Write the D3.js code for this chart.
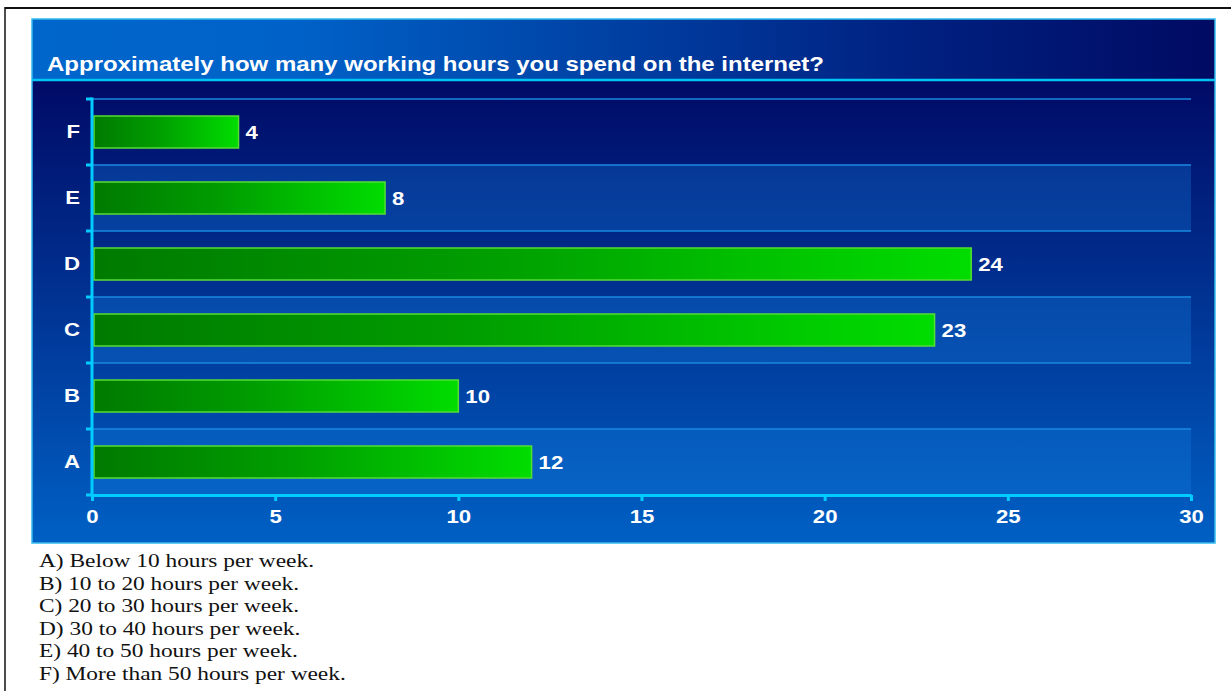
<!DOCTYPE html>
<html>
<head>
<meta charset="utf-8">
<script src="https://cdn.jsdelivr.net/npm/d3@7"></script>
<style>
  html, body { margin: 0; padding: 0; background: #ffffff; }
  svg { display: block; }
</style>
</head>
<body>
<svg id="chart" width="1231" height="691"></svg>
<script>
// Survey answers: number of respondents per hour range
const categories = ["A", "B", "C", "D", "E", "F"];
const counts = [12, 10, 23, 24, 8, 4];
const xTicks = [0, 5, 10, 15, 20, 25, 30];
const titleText = "Approximately how many working hours you spend on the internet?";
const legendLines = [
  "A) Below 10 hours per week.",
  "B) 10 to 20 hours per week.",
  "C) 20 to 30 hours per week.",
  "D) 30 to 40 hours per week.",
  "E) 40 to 50 hours per week.",
  "F) More than 50 hours per week."
];

// All text on this page is drawn slightly widened
const STRETCH = 1.2;
const SANS = "Liberation Sans, Arial, sans-serif";
const SERIF = "Liberation Serif, Times New Roman, serif";

const svg = d3.select("#chart");
const defs = svg.append("defs");

// Gradients
const titleGrad = defs.append("linearGradient").attr("id", "titleGrad")
  .attr("x1", "0%").attr("x2", "100%").attr("y1", "0%").attr("y2", "0%");
titleGrad.append("stop").attr("offset", "0%").attr("stop-color", "#0066cc");
titleGrad.append("stop").attr("offset", "22%").attr("stop-color", "#0062c8");
titleGrad.append("stop").attr("offset", "75%").attr("stop-color", "#002080");
titleGrad.append("stop").attr("offset", "100%").attr("stop-color", "#000a62");

const plotGrad = defs.append("linearGradient").attr("id", "plotGrad")
  .attr("x1", "0%").attr("x2", "0%").attr("y1", "0%").attr("y2", "100%");
plotGrad.append("stop").attr("offset", "0%").attr("stop-color", "#000a66");
plotGrad.append("stop").attr("offset", "100%").attr("stop-color", "#0060c4");

const barGrad = defs.append("linearGradient").attr("id", "barGrad")
  .attr("x1", "0%").attr("x2", "100%").attr("y1", "0%").attr("y2", "0%");
barGrad.append("stop").attr("offset", "0%").attr("stop-color", "#007a00");
barGrad.append("stop").attr("offset", "45%").attr("stop-color", "#009e00");
barGrad.append("stop").attr("offset", "100%").attr("stop-color", "#00dd00");

// Outer page frame
svg.append("line").attr("x1", 5).attr("x2", 1231).attr("y1", 8).attr("y2", 8)
  .attr("stroke", "#111").attr("stroke-width", 2);
svg.append("line").attr("x1", 5).attr("x2", 5).attr("y1", 7).attr("y2", 691)
  .attr("stroke", "#111").attr("stroke-width", 1.5);

// Panel
const panel = { x: 32, y: 19, w: 1183, h: 524, titleH: 61 };
svg.append("rect").attr("x", panel.x).attr("y", panel.y)
  .attr("width", panel.w).attr("height", panel.titleH).attr("fill", "url(#titleGrad)");
svg.append("rect").attr("x", panel.x).attr("y", panel.y + panel.titleH)
  .attr("width", panel.w).attr("height", panel.h - panel.titleH).attr("fill", "url(#plotGrad)");
svg.append("rect").attr("x", panel.x).attr("y", panel.y)
  .attr("width", panel.w).attr("height", panel.h)
  .attr("fill", "none").attr("stroke", "#33bbee").attr("stroke-width", 1.5);
svg.append("line").attr("x1", panel.x).attr("x2", panel.x + panel.w)
  .attr("y1", panel.y + panel.titleH).attr("y2", panel.y + panel.titleH)
  .attr("stroke", "#00c4f4").attr("stroke-width", 2.5);

svg.append("text")
  .attr("transform", `translate(47,71) scale(${STRETCH},1)`)
  .attr("fill", "#ffffff").attr("font-family", SANS)
  .attr("font-weight", "bold").attr("font-size", 20)
  .text(titleText);

// Scales
const x = d3.scaleLinear().domain([0, 30]).range([92, 1191]);
const y = d3.scaleBand().domain(categories.slice().reverse())
  .range([99, 495]).paddingInner(0.515).paddingOuter(0.2575);
const step = y.step();
const gap = (step - y.bandwidth()) / 2;
const data = categories.map((c, i) => ({ cat: c, value: counts[i] }));

// Alternating row bands
const rows = svg.append("g");
rows.selectAll("rect").data(data).join("rect")
  .attr("x", x(0)).attr("width", x(30) - x(0))
  .attr("y", d => y(d.cat) - gap).attr("height", step)
  .attr("fill", (d, i) => i % 2 === 0 ? "rgba(20,130,225,0.30)" : "rgba(0,0,0,0)");
rows.selectAll("line").data(data).join("line")
  .attr("x1", x(0)).attr("x2", x(30))
  .attr("y1", d => y(d.cat) - gap).attr("y2", d => y(d.cat) - gap)
  .attr("stroke", "#1a8ae0").attr("stroke-width", 1.5);

// Bars
svg.append("g").selectAll("rect").data(data).join("rect")
  .attr("x", x(0) + 2).attr("y", d => y(d.cat))
  .attr("width", d => x(d.value) - x(0) - 2).attr("height", y.bandwidth())
  .attr("fill", "url(#barGrad)").attr("stroke", "#55dd33").attr("stroke-width", 1.5);

// Value labels
svg.append("g").selectAll("text").data(data).join("text")
  .attr("transform", d => `translate(${x(d.value) + 7},${y(d.cat) + y.bandwidth() / 2}) scale(${STRETCH},1)`)
  .attr("dy", "0.36em").attr("fill", "#ffffff")
  .attr("font-family", SANS).attr("font-weight", "bold").attr("font-size", 18.5)
  .text(d => d.value);

// X axis
const xAxis = svg.append("g").attr("transform", "translate(0,495)")
  .call(d3.axisBottom(x).tickValues(xTicks).tickSize(6).tickSizeOuter(0).tickPadding(9));
xAxis.select(".domain").attr("stroke", "#00ccff").attr("stroke-width", 3);
xAxis.selectAll(".tick line").attr("stroke", "#00ccff").attr("stroke-width", 3);
xAxis.selectAll(".tick text").attr("fill", "#ffffff")
  .attr("transform", `scale(${STRETCH},1)`)
  .attr("font-family", SANS).attr("font-weight", "bold").attr("font-size", 18.5);

// Y axis: category labels plus boundary ticks
const yAxis = svg.append("g").attr("transform", "translate(92,0)")
  .call(d3.axisLeft(y).tickSize(0).tickPadding(10));
yAxis.select(".domain").remove();
yAxis.selectAll(".tick text").attr("fill", "#ffffff")
  .attr("transform", `scale(${STRETCH},1)`)
  .attr("font-family", SANS).attr("font-weight", "bold").attr("font-size", 18.5);
const bounds = data.map(d => y(d.cat) - gap).concat([495]);
svg.append("g").selectAll("line").data(bounds).join("line")
  .attr("x1", 86).attr("x2", 92).attr("y1", d => d).attr("y2", d => d)
  .attr("stroke", "#00ccff").attr("stroke-width", 3);
svg.append("line").attr("x1", 92).attr("x2", 92).attr("y1", 97.5).attr("y2", 496.5)
  .attr("stroke", "#00ccff").attr("stroke-width", 3);

// Answer key below the chart
svg.append("g").selectAll("text").data(legendLines).join("text")
  .attr("transform", (d, i) => `translate(39,${567 + i * 22.6}) scale(${STRETCH + 0.03},1)`)
  .attr("fill", "#111111").attr("font-family", SERIF)
  .attr("font-size", 19)
  .text(d => d);
</script>
</body>
</html>
